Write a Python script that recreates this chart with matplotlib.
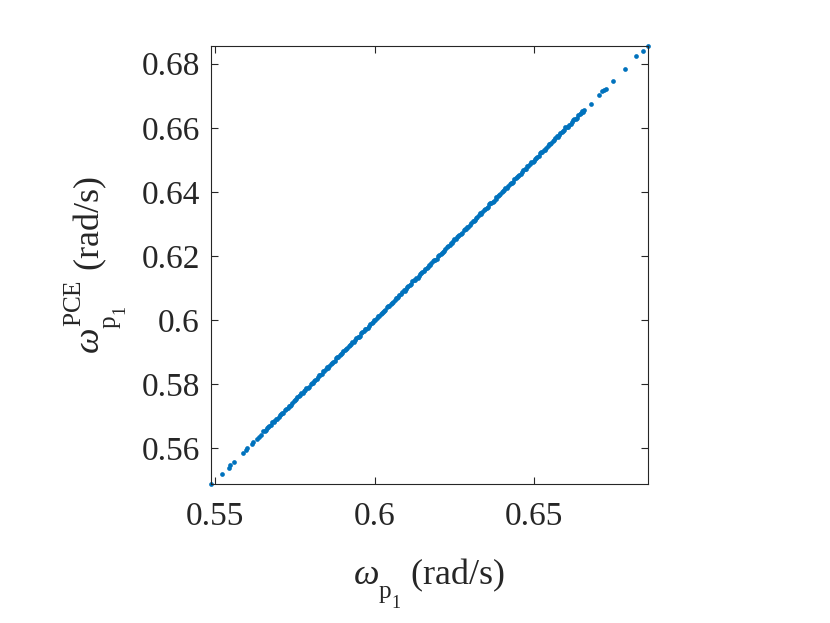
import matplotlib
matplotlib.use("Agg")
import matplotlib.pyplot as plt
import matplotlib._mathtext as mt

plt.rcParams['font.family'] = ['Liberation Serif', 'DejaVu Serif']
plt.rcParams['mathtext.fontset'] = 'custom'
plt.rcParams['mathtext.rm'] = 'Liberation Serif'
plt.rcParams['mathtext.it'] = 'Liberation Serif:italic'
# MATLAB tex puts sub/superscripts further from the baseline than mathtext
mt.FontConstantsBase.sub1 = 0.85
mt.FontConstantsBase.sub2 = 1.0
mt.FontConstantsBase.sup1 = 1.1
mt.FontConstantsBase.subdrop = 1.0

# sparse lower tail
low_x = [0.5487, 0.5521, 0.5542, 0.5547, 0.5560, 0.5586, 0.5596, 0.5601,
         0.5615, 0.5620, 0.5631, 0.5636, 0.5643]
low_y = [0.5489, 0.5521, 0.5540, 0.5547, 0.5557, 0.5585, 0.5596, 0.5601,
         0.5615, 0.5620, 0.5630, 0.5635, 0.5643]

# dense middle band
mid_x = [0.5651, 0.5659, 0.5666, 0.5674, 0.5683, 0.5690, 0.5699, 0.5707, 0.5714, 0.5722,
         0.5731, 0.5738, 0.5746, 0.5755, 0.5762, 0.5770, 0.5779, 0.5786, 0.5794, 0.5803,
         0.5810, 0.5818, 0.5827, 0.5834, 0.5842, 0.5851, 0.5858, 0.5866, 0.5875, 0.5882,
         0.5890, 0.5899, 0.5906, 0.5914, 0.5923, 0.5930, 0.5938, 0.5947, 0.5954, 0.5962,
         0.5971, 0.5978, 0.5986, 0.5995, 0.6002, 0.6010, 0.6019, 0.6026, 0.6034, 0.6043,
         0.6050, 0.6058, 0.6067, 0.6074, 0.6082, 0.6091, 0.6098, 0.6106, 0.6115, 0.6122,
         0.6130, 0.6139, 0.6146, 0.6154, 0.6163, 0.6170, 0.6178, 0.6187, 0.6194, 0.6202,
         0.6211, 0.6218, 0.6226, 0.6235, 0.6242, 0.6250, 0.6259, 0.6266, 0.6274, 0.6283,
         0.6290, 0.6298, 0.6307, 0.6314, 0.6322, 0.6331, 0.6338, 0.6346, 0.6355, 0.6362,
         0.6370, 0.6379, 0.6386, 0.6394, 0.6403, 0.6410, 0.6418, 0.6427, 0.6434, 0.6442,
         0.6451, 0.6458, 0.6466, 0.6475, 0.6482, 0.6490, 0.6499, 0.6506, 0.6514, 0.6523,
         0.6530, 0.6538, 0.6547, 0.6554, 0.6562, 0.6571, 0.6578, 0.6586, 0.6595, 0.6602,
         0.6610, 0.6619, 0.6626, 0.6634, 0.6643, 0.6650, 0.6656]
mid_y = [0.5653, 0.5658, 0.5667, 0.5672, 0.5683, 0.5693, 0.5698, 0.5708, 0.5711, 0.5724,
         0.5731, 0.5736, 0.5747, 0.5753, 0.5762, 0.5773, 0.5778, 0.5787, 0.5791, 0.5805,
         0.5810, 0.5816, 0.5828, 0.5832, 0.5842, 0.5854, 0.5857, 0.5867, 0.5873, 0.5884,
         0.5890, 0.5897, 0.5907, 0.5912, 0.5923, 0.5933, 0.5937, 0.5948, 0.5951, 0.5964,
         0.5971, 0.5976, 0.5987, 0.5993, 0.6002, 0.6013, 0.6018, 0.6027, 0.6031, 0.6045,
         0.6050, 0.6056, 0.6068, 0.6072, 0.6082, 0.6094, 0.6097, 0.6107, 0.6113, 0.6124,
         0.6130, 0.6137, 0.6147, 0.6152, 0.6163, 0.6173, 0.6177, 0.6188, 0.6191, 0.6204,
         0.6211, 0.6216, 0.6227, 0.6233, 0.6242, 0.6253, 0.6258, 0.6267, 0.6271, 0.6285,
         0.6290, 0.6296, 0.6308, 0.6312, 0.6322, 0.6334, 0.6337, 0.6347, 0.6353, 0.6364,
         0.6370, 0.6377, 0.6387, 0.6392, 0.6403, 0.6413, 0.6417, 0.6428, 0.6431, 0.6444,
         0.6451, 0.6456, 0.6467, 0.6473, 0.6482, 0.6493, 0.6498, 0.6507, 0.6511, 0.6525,
         0.6530, 0.6536, 0.6548, 0.6552, 0.6562, 0.6574, 0.6577, 0.6587, 0.6593, 0.6604,
         0.6610, 0.6617, 0.6627, 0.6632, 0.6643, 0.6652, 0.6655]
mid2_x = [0.5655, 0.5662, 0.5670, 0.5679, 0.5686, 0.5695, 0.5703, 0.5710, 0.5718, 0.5727,
          0.5734, 0.5742, 0.5751, 0.5758, 0.5766, 0.5775, 0.5782, 0.5790, 0.5799, 0.5806,
          0.5814, 0.5823, 0.5830, 0.5838, 0.5847, 0.5854, 0.5862, 0.5871, 0.5878, 0.5886,
          0.5895, 0.5902, 0.5910, 0.5919, 0.5926, 0.5934, 0.5943, 0.5950, 0.5958, 0.5967,
          0.5974, 0.5982, 0.5991, 0.5998, 0.6006, 0.6015, 0.6022, 0.6030, 0.6039, 0.6046,
          0.6054, 0.6063, 0.6070, 0.6078, 0.6087, 0.6094, 0.6102, 0.6111, 0.6118, 0.6126,
          0.6135, 0.6142, 0.6150, 0.6159, 0.6166, 0.6174, 0.6183, 0.6190, 0.6198, 0.6207,
          0.6214, 0.6222, 0.6231, 0.6238, 0.6246, 0.6255, 0.6262, 0.6270, 0.6279, 0.6286,
          0.6294, 0.6303, 0.6310, 0.6318, 0.6327, 0.6334, 0.6342, 0.6351, 0.6358, 0.6366,
          0.6375, 0.6382, 0.6390, 0.6399, 0.6406, 0.6414, 0.6423, 0.6430, 0.6438, 0.6447,
          0.6454, 0.6462, 0.6471, 0.6478, 0.6486, 0.6495, 0.6502, 0.6510, 0.6519, 0.6526,
          0.6534, 0.6543, 0.6550, 0.6558, 0.6567, 0.6574, 0.6582, 0.6591, 0.6598, 0.6606,
          0.6615, 0.6622, 0.6630, 0.6639, 0.6646, 0.6653]
mid2_y = [0.5653, 0.5663, 0.5669, 0.5681, 0.5686, 0.5692, 0.5704, 0.5709, 0.5721, 0.5725,
          0.5732, 0.5743, 0.5750, 0.5760, 0.5766, 0.5772, 0.5783, 0.5789, 0.5802, 0.5804,
          0.5812, 0.5824, 0.5829, 0.5840, 0.5847, 0.5851, 0.5863, 0.5870, 0.5881, 0.5884,
          0.5893, 0.5903, 0.5909, 0.5921, 0.5926, 0.5931, 0.5944, 0.5949, 0.5961, 0.5965,
          0.5972, 0.5983, 0.5990, 0.6000, 0.6006, 0.6012, 0.6023, 0.6029, 0.6042, 0.6044,
          0.6052, 0.6064, 0.6069, 0.6080, 0.6087, 0.6091, 0.6103, 0.6110, 0.6121, 0.6124,
          0.6133, 0.6143, 0.6149, 0.6161, 0.6166, 0.6171, 0.6184, 0.6189, 0.6201, 0.6205,
          0.6212, 0.6223, 0.6230, 0.6240, 0.6246, 0.6252, 0.6263, 0.6269, 0.6282, 0.6284,
          0.6292, 0.6304, 0.6309, 0.6320, 0.6327, 0.6331, 0.6343, 0.6350, 0.6361, 0.6364,
          0.6373, 0.6383, 0.6389, 0.6401, 0.6406, 0.6411, 0.6424, 0.6429, 0.6441, 0.6445,
          0.6452, 0.6463, 0.6470, 0.6480, 0.6486, 0.6492, 0.6503, 0.6509, 0.6522, 0.6524,
          0.6532, 0.6544, 0.6549, 0.6560, 0.6567, 0.6571, 0.6583, 0.6590, 0.6601, 0.6604,
          0.6613, 0.6623, 0.6629, 0.6641, 0.6646, 0.6650]

# sparse upper tail
high_x = [0.6678, 0.6702, 0.6714, 0.6720, 0.6724, 0.6748, 0.6785, 0.6821, 0.6842, 0.6857]
high_y = [0.6675, 0.6701, 0.6714, 0.6719, 0.6722, 0.6745, 0.6783, 0.6824, 0.6841, 0.6855]

omega = low_x + mid_x + mid2_x + high_x
omega_pce = low_y + mid_y + mid2_y + high_y

xticks = [0.55, 0.6, 0.65]
yticks = [0.56, 0.58, 0.6, 0.62, 0.64, 0.66, 0.68]

fig = plt.figure(figsize=(8.3, 6.23), dpi=100)
ax = fig.add_axes([0.2542, 0.2231, 0.5265, 0.7030])
ax.plot(omega, omega_pce, linestyle='none', marker='o', markersize=3.4,
        markeredgewidth=0, color='#0072BD', clip_on=False)

ax.set_xlim(min(omega), max(omega))
ax.set_ylim(min(omega_pce), max(omega_pce))
ax.set_xticks(xticks)
ax.set_xticklabels(['%g' % t for t in xticks])
ax.set_yticks(yticks)
ax.set_yticklabels(['%g' % t for t in yticks])

for s in ax.spines.values():
    s.set_color('#262626')
    s.set_linewidth(0.8)
ax.tick_params(direction='in', top=True, right=True, length=5, width=0.8,
               labelsize=24, colors='#262626')
ax.tick_params(axis='x', pad=12.5)
ax.tick_params(axis='y', pad=8)

ax.set_xlabel(r'$\omega_{{\mathrm{p}}_{1}}$ (rad/s)', fontsize=26, color='#262626', labelpad=18)
ax.set_ylabel(r'$\omega_{{\mathrm{p}}_{1}}^{\mathrm{PCE}}$ (rad/s)', fontsize=26, color='#262626', labelpad=8)

fig.savefig('out.png', dpi=100)
